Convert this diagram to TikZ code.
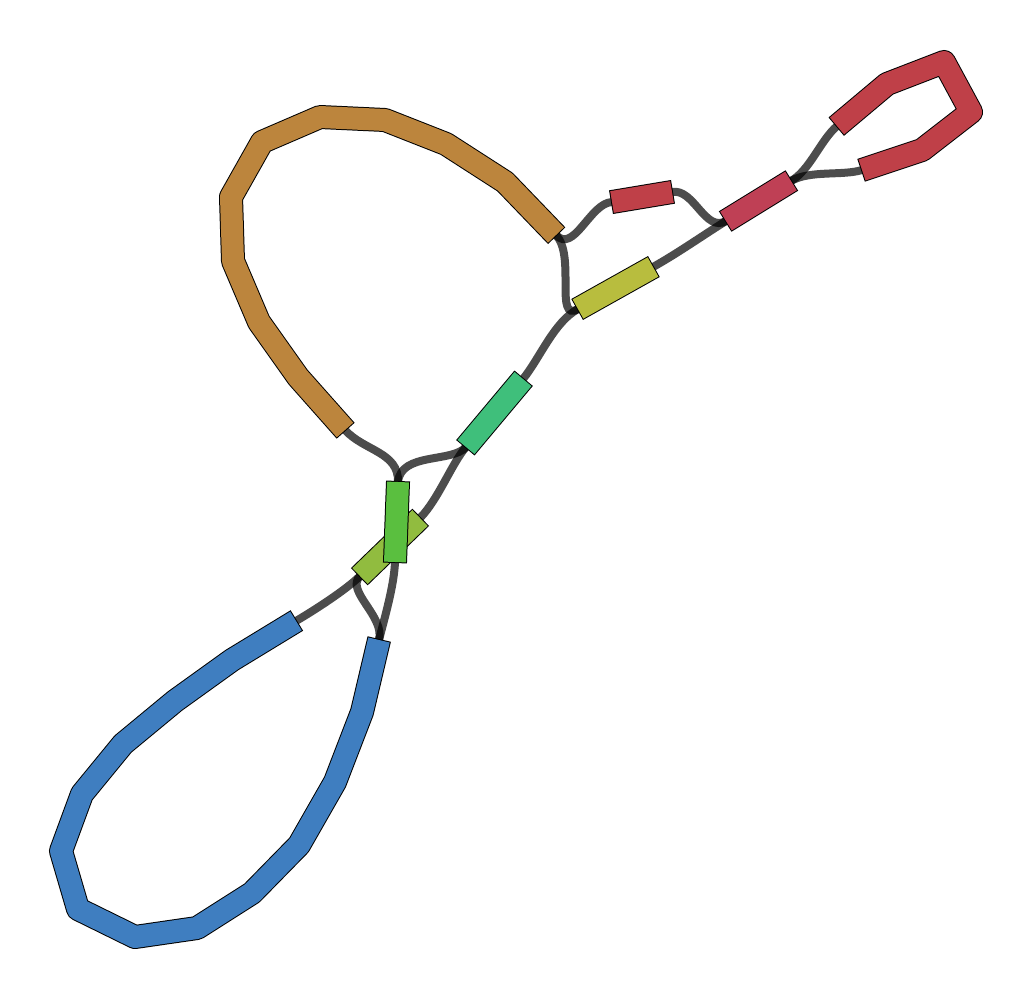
\documentclass[tikz,border=0pt]{standalone}
\usetikzlibrary{calc}
\definecolor{cbrown}{HTML}{BC853D}
\definecolor{cblue}{HTML}{3F7EC0}
\definecolor{cred}{HTML}{BF4048}
\definecolor{cpink}{HTML}{BF4055}
\definecolor{cyel}{HTML}{B8BD3E}
\definecolor{cteal}{HTML}{3FBF7B}
\definecolor{cgreen}{HTML}{5ABF3F}
\definecolor{clgreen}{HTML}{91BC3F}
\tikzset{
  edge/.style={line width=8pt, black, opacity=0.7, line cap=butt},
  segout/.style={line width=24pt, black, line join=round, line cap=butt, shorten <=-1pt, shorten >=-1pt},
  segin/.style={line width=22pt, line join=round, line cap=butt}
}
\newcommand\mysegment[2]{\draw[segout] #2; \draw[segin,#1] #2;}
\begin{document}
\begin{tikzpicture}[x=1pt,y=-1pt]
\useasboundingbox (0,0) rectangle (1035,1000);
% segment end coordinates
\coordinate (brownA) at (345,430);
\coordinate (brownB) at (556,235);
\coordinate (blueA) at (296,621);
\coordinate (blueB) at (379,640);
\coordinate (redA) at (837,126);
\coordinate (redB) at (862,170);
\coordinate (rA) at (612,202);
\coordinate (rB) at (672,192);
\coordinate (pkA) at (726,221);
\coordinate (pkB) at (791,181);
\coordinate (yA) at (578,309);
\coordinate (yB) at (653,267);
\coordinate (tA) at (466,447);
\coordinate (tB) at (523,379);
\coordinate (gA) at (398,482);
\coordinate (gB) at (395,562);
\coordinate (lgA) at (420,518);
\coordinate (lgB) at (360,576);
% edges
\draw[edge] (brownB) .. controls (574,254) and (590,203) .. (rA);
\draw[edge] (brownB) .. controls (576,256) and (554,323) .. (yA);
\draw[edge] (rB) .. controls (694,188) and (705,233) .. (pkA);
\draw[edge] (yB) .. controls (678,253) and (702,236) .. (pkA);
\draw[edge] (pkB) .. controls (810,170) and (820,141) .. (redA);
\draw[edge] (pkB) .. controls (810,170) and (843,176) .. (redB);
\draw[edge] (yA) .. controls (554,322) and (540,358) .. (tB);
\draw[edge] (brownA) .. controls (364,451) and (399,452) .. (gA);
\draw[edge] (tA) .. controls (452,463) and (401,452) .. (gA);
\draw[edge] (tA) .. controls (452,463) and (438,500) .. (lgA);
\draw[edge] (lgB) .. controls (346,590) and (313,611) .. (blueA);
\draw[edge] (lgB) .. controls (345,591) and (385,616) .. (blueB);
\draw[edge] (gB) .. controls (394,586) and (385,616) .. (blueB);
% segments
\mysegment{cbrown}{(brownA) -- (298,377) -- (259,322) -- (233,261) -- (231,197) -- (262,142) -- (320,117) -- (385,120) -- (446,144) -- (505,182) -- (brownB)}
\mysegment{cblue}{(blueA) -- (232,660) -- (175,701) -- (123,744) -- (82,794) -- (61,851) -- (78,909) -- (135,937) -- (197,928) -- (252,893) -- (299,845) -- (335,782) -- (362,712) -- (blueB)}
\mysegment{cred}{(redA) -- (887,84) -- (944,62) -- (971,112) -- (922,150) -- (redB)}
\mysegment{cred}{(rA) -- (rB)}
\mysegment{cpink}{(pkA) -- (pkB)}
\mysegment{cyel}{(yA) -- (yB)}
\mysegment{cteal}{(tA) -- (tB)}
\mysegment{clgreen}{(lgB) -- (lgA)}
\mysegment{cgreen}{(gA) -- (gB)}
\end{tikzpicture}
\end{document}
